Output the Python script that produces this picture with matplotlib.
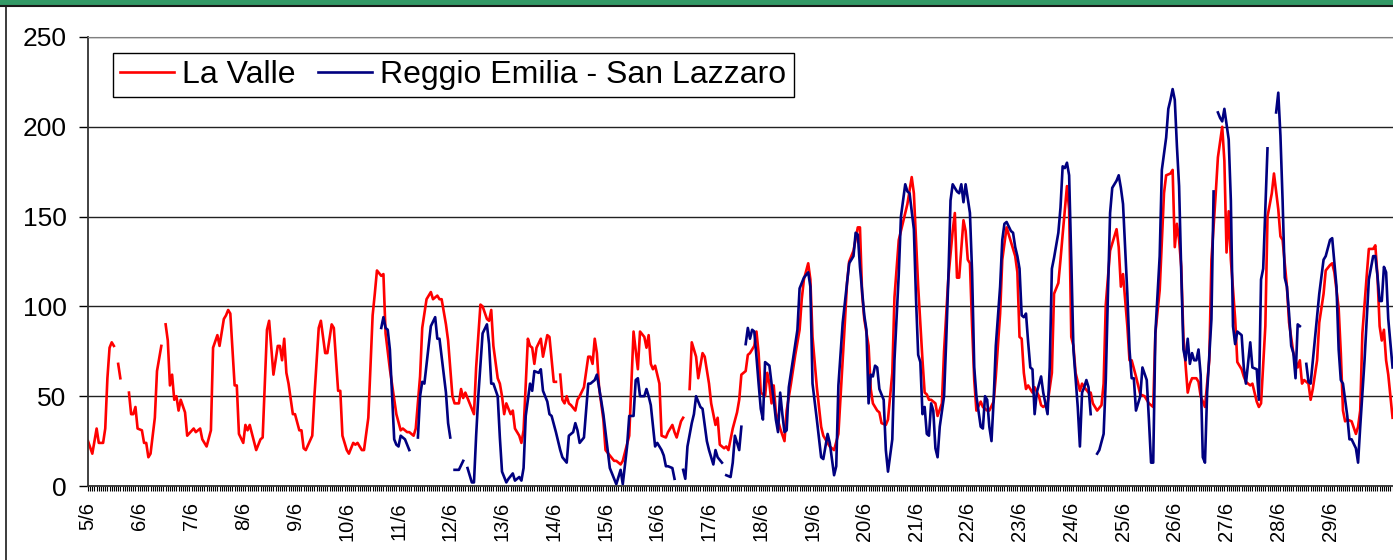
import matplotlib
matplotlib.use("Agg")
import matplotlib.pyplot as plt
import numpy as np
from matplotlib.patches import Rectangle
from matplotlib.lines import Line2D

plt.rcParams['font.family'] = ['Liberation Sans', 'DejaVu Sans']

nan = np.nan

# hours counted from 5/6 00:00 (nan = missing data)
la_valle_h = [
    0, 2, 4, 5, 7, 8, 9, 10, 11, 12, 13, 14, 15, 17, 19, 20, 21, 22, 23,
    25, 26, 27, 28, 29, 31, 32, 34, 35, 36, 37, 38, 39, 40, 41, 42, 43, 45, 46,
    49, 50, 52, 53, 55, 57, 58, 60, 61, 63, 64, 65, 66, 68, 69, 70, 72,
    73, 74, 75, 78, 80, 81, 83, 84, 86, 88, 89, 90, 91, 92, 93, 95,
    96, 98, 99, 100, 101, 104, 105, 107, 108, 110, 111, 113, 114, 116, 117, 118,
    120, 121, 123, 124, 125, 127, 128, 130, 132, 133, 134, 136, 137, 138, 140, 143,
    145, 146, 148, 149, 151, 152, 154, 155, 157, 159, 160, 162, 163, 164, 166, 167,
    169, 170, 172, 173, 174, 175, 177, 179, 180, 182, 183, 185, 186, 187, 188, 190,
    191, 192, 193, 194, 196, 197, 198, 200, 201, 202, 204, 205, 206, 207, 208, 210, 211, 213, 214, 216, 217, 218,
    219, 220, 221, 222, 223, 224, 226, 227, 228, 230, 232, 233, 234, 235, 236, 237, 239,
    240, 242, 244, 245, 247, 248, 251, 252, 253, 255, 256, 258, 259, 260, 261, 262, 263, 265, 266,
    268, 269, 271, 272, 273, 275, 276, 277, 279, 280, 282, 283, 285, 286, 288, 289, 291, 292, 293,
    295, 296, 297, 299, 301, 302, 303, 305, 306, 307, 309, 310, 311, 312, 314, 315,
    316, 317, 318, 319, 321, 323, 324, 326, 328, 330, 331, 332, 334, 335, 336, 338,
    340, 341, 343, 344, 346, 348, 350, 351, 352, 353, 355, 357, 358, 359, 360, 362, 363,
    364, 366, 367, 368, 370, 371, 373, 374, 376, 378, 380, 382, 383, 385, 387,
    388, 389, 390, 391, 393, 394, 396, 397, 399, 401, 402, 403, 404, 406, 407, 408, 409, 410, 411,
    412, 414, 415, 417, 418, 420, 421, 423, 424, 426, 427, 428, 430, 431, 432, 433, 434, 435,
    436, 438, 439, 441, 442, 443, 445, 447, 448, 450, 451, 452, 454, 455, 456, 457, 458,
    460, 461, 462, 464, 465, 466, 468, 470, 471, 472, 474, 475, 477, 478, 479, 480, 482, 483,
    484, 486, 488, 490, 492, 494, 495, 497, 499, 500, 502, 503, 504, 505, 506, 507,
    508, 510, 511, 512, 514, 515, 516, 518, 520, 521, 523, 524, 526, 527, 528, 529, 530, 532,
    533, 535, 536, 537, 539, 540, 542, 543, 544, 546, 547, 549, 550, 552, 553, 554, 556, 557, 559,
    561, 562, 563, 564, 566, 567, 568, 570, 571, 573, 574, 576, 577, 578, 580, 581, 582, 583,
    584, 586, 588, 589, 590, 591, 593, 594, 596, 597, 598, 599, 600, 601, 602, 603, 604, 605,
]
la_valle_v = [
    25, 18, 32, 24, 24, 32, 60, 77, 80, 78, nan, 68, 60, nan, 52, 40, 40, 44, 32,
    31, 24, 24, 16, 18, 38, 64, 78, nan, 90, 81, 56, 62, 48, 50, 42, 48, 41, 28,
    32, 30, 32, 26, 22, 31, 77, 84, 78, 93, 95, 98, 96, 56, 56, 29, 24,
    34, 31, 34, 20, 26, 27, 87, 92, 62, 78, 78, 70, 82, 63, 57, 40,
    40, 31, 31, 21, 20, 28, 50, 88, 92, 74, 74, 90, 88, 53, 53, 28,
    20, 18, 24, 23, 24, 20, 20, 38, 95, 107, 120, 117, 118, 85, 65, 40,
    31, 32, 30, 30, 28, 32, 61, 88, 104, 108, 104, 106, 104, 104, 90, 81,
    50, 46, 46, 54, 49, 52, 46, 40, 66, 101, 100, 93, 92, 98, 78, 60,
    57, 50, 40, 46, 40, 42, 32, 28, 24, 31, 82, 78, 77, 68, 77, 82, 72, 84, 83, 58, 58, nan,
    62, 48, 46, 50, 46, 45, 42, 48, 50, 55, 72, 72, 68, 82, 74, 55, 37,
    20, 17, 14, 14, 12, 14, 28, 57, 86, 65, 86, 83, 77, 84, 68, 65, 67, 57, 28,
    27, 30, 34, 30, 27, 36, 38, nan, 54, 80, 72, 60, 74, 72, 57, 46, 34, 38, 23,
    21, 22, 20, 32, 41, 48, 62, 64, 73, 74, 78, 86, 74, 52, 50, 63,
    57, 46, 56, 41, 32, 25, 42, 57, 73, 87, 104, 115, 124, 115, 83, 55,
    33, 28, 24, 22, 20, 29, 70, 91, 113, 125, 131, 144, 144, 107, 93, 78, 54,
    46, 42, 41, 35, 34, 37, 63, 105, 137, 147, 157, 172, 163, 111, 70,
    52, 51, 48, 48, 46, 39, 46, 75, 116, 142, 152, 116, 116, 148, 142, 126, 124, 89, 59,
    42, 47, 44, 42, 42, 47, 61, 96, 126, 144, 140, 136, 128, 119, 83, 82, 63, 54,
    56, 52, 55, 50, 45, 44, 46, 63, 107, 113, 126, 140, 167, 154, 83, 78, 63,
    53, 57, 55, 52, 52, 46, 42, 45, 57, 101, 131, 135, 143, 133, 111, 118, 89, 70,
    70, 61, 51, 50, 46, 44, 85, 109, 163, 173, 174, 176, 133, 146, 137, 122,
    83, 52, 57, 60, 60, 58, 50, 44, 70, 126, 163, 183, 200, 181, 130, 153, 126, 93,
    69, 65, 61, 58, 56, 57, 47, 44, 46, 89, 150, 163, 174, 154, 139, 137, 111, 91, 74,
    66, 70, 57, 59, 57, 48, 54, 70, 91, 107, 120, 123, 124, 119, 99, 74, 42, 36,
    37, 36, 29, 33, 42, 85, 117, 132, 132, 134, 117, 89, 81, 87, 70, 62, 50, 38,
]

reggio_h = [
    136, 137, 138, 139, 140, 142, 143, 144, 145, 147, 149, 151,
    153, 154, 155, 156, 158, 159, 161, 162, 163, 165, 166, 167, 168, 169,
    170, 172, 174, 175, 176, 178, 179, 180, 181, 183, 185, 186, 187, 188, 190,
    191, 192, 194, 195, 197, 198, 200, 201, 202, 203, 205, 206, 207, 209, 210, 211, 213, 214, 215, 217,
    219, 220, 222, 223, 225, 226, 227, 228, 230, 232, 233, 235, 236, 237, 239,
    241, 242, 244, 245, 247, 248, 250, 251, 253, 254, 255, 256, 258, 259, 260, 261, 263, 264, 266,
    267, 268, 269, 271, 272, 274, 276, 277, 278, 280, 281, 282, 284, 285, 286, 287, 288, 290,
    291, 292, 294, 295, 296, 298, 299, 300, 302, 303, 304, 305, 306, 307, 308, 309, 310, 311, 312, 313, 314,
    316, 317, 318, 319, 320, 321, 322, 323, 324, 325, 327, 329, 330, 332, 334, 335, 336, 338,
    340, 341, 343, 344, 346, 347, 348, 350, 352, 353, 355, 356, 357, 358, 360, 361, 362,
    363, 364, 365, 366, 367, 369, 370, 371, 373, 374, 376, 377, 379, 380, 381, 383, 384, 385, 386,
    387, 388, 389, 390, 391, 392, 393, 394, 395, 397, 398, 399, 400, 401, 403, 404, 405, 406, 407, 409, 410, 411,
    412, 414, 415, 416, 417, 418, 419, 420, 421, 423, 424, 425, 426, 428, 429, 430, 431, 432, 433, 434, 435,
    436, 437, 438, 439, 440, 442, 443, 445, 446, 447, 448, 450, 451, 452, 453, 454, 455, 456, 457, 459,
    460, 461, 462, 463, 464, 465, 466, 468, 469, 471, 472, 473, 474, 475, 476, 477, 478, 479, 480, 482, 483,
    484, 485, 486, 488, 489, 491, 492, 493, 494, 495, 497, 498, 500, 501, 502, 503, 504, 505, 506, 507,
    508, 509, 510, 511, 512, 513, 514, 515, 516, 517, 518, 519, 521, 522, 523, 524, 525, 526, 527, 529, 530, 531,
    532, 533, 535, 536, 537, 539, 540, 542, 543, 544, 545, 546, 547, 548, 551, 552, 553, 554, 555,
    556, 557, 558, 559, 560, 561, 562, 563, 565, 566, 567, 569, 571, 573, 574, 576, 577, 579,
    580, 581, 582, 584, 585, 586, 588, 589, 590, 592, 593, 594, 596, 597, 598, 599, 600, 601, 602, 603, 605,
]
reggio_v = [
    88, 94, 88, 87, 76, 26, 23, 22, 28, 26, 20, nan,
    27, 50, 58, 57, 78, 89, 94, 82, 82, 62, 52, 35, 27, nan,
    9, 9, 14, nan, 10, 2, 2, 28, 50, 85, 90, 79, 57, 57, 50,
    27, 8, 2, 4, 7, 3, 5, 3, 10, 39, 57, 53, 64, 63, 65, 53, 47, 40, 39, 30,
    20, 16, 13, 28, 30, 35, 31, 24, 27, 57, 57, 59, 62, 55, 40,
    20, 10, 4, 1, 9, 1, 22, 39, 39, 59, 60, 50, 50, 54, 50, 45, 22, 24, 20,
    17, 11, 11, 10, 4, nan, 9, 4, 22, 35, 40, 50, 44, 43, 34, 25, 20, 12,
    20, 16, 13, nan, 6, 5, 13, 28, 20, 33, nan, 79, 88, 82, 87, 86, 72, 57, 43, 37, 69,
    67, 57, 48, 37, 30, 52, 40, 30, 31, 55, 71, 87, 110, 116, 119, 111, 57, 37,
    16, 15, 29, 24, 6, 11, 56, 91, 113, 124, 128, 141, 140, 122, 95, 87, 46,
    62, 61, 67, 66, 54, 48, 20, 8, 26, 70, 118, 150, 168, 164, 163, 143, 104, 73, 69,
    40, 44, 29, 28, 46, 42, 21, 16, 33, 50, 81, 116, 159, 168, 164, 163, 168, 158, 168, 152, 119, 66,
    50, 33, 32, 50, 48, 33, 25, 48, 78, 111, 137, 146, 147, 142, 141, 133, 128, 121, 95, 94, 96,
    80, 66, 65, 40, 52, 61, 52, 40, 66, 121, 127, 141, 155, 178, 177, 180, 173, 126, 76, 44,
    22, 52, 55, 59, 55, 40, nan, 18, 20, 29, 59, 107, 152, 166, 168, 170, 173, 166, 157, 107, 76,
    60, 60, 42, 50, 66, 59, 37, 13, 13, 85, 128, 176, 194, 210, 215, 221, 215, 189, 167, 119,
    76, 70, 82, 68, 74, 70, 70, 76, 62, 16, 13, 52, 93, 164, nan, 208, 205, 203, 210, 193, 159, 89,
    79, 86, 84, 66, 57, 80, 66, 65, 48, 115, 121, 154, 188, nan, 208, 219, 195, 159, 116,
    111, 96, 78, 74, 60, 90, 89, nan, 68, 58, 57, 82, 107, 126, 128, 137, 138, 111,
    76, 59, 57, 39, 26, 26, 21, 13, 33, 70, 93, 115, 128, 128, 117, 103, 103, 122, 119, 93, 66,
]

day_labels = ["%d/6" % d for d in range(5, 30)]

fig = plt.figure(figsize=(13.93, 5.6), dpi=100)
W, H = 1393.0, 560.0

# frame of the chart area: green band at top, black border on the left
fig.patches.append(Rectangle((0, 1 - 5 / H), 1, 5 / H, transform=fig.transFigure,
                             facecolor="#339966", edgecolor="none", zorder=0))
fig.lines.append(Line2D([0, 1], [1 - 6 / H, 1 - 6 / H], transform=fig.transFigure,
                        color="#1a1a1a", lw=1.5))
fig.lines.append(Line2D([6 / W, 6 / W], [0, 1 - 6 / H], transform=fig.transFigure,
                        color="#1a1a1a", lw=1.2))

ax = fig.add_axes([88 / W, 74 / H, 1 - 88 / W, 449 / H])

ax.plot(la_valle_h, la_valle_v, color="#FF0000", lw=1.9, label="La Valle")
ax.plot(reggio_h, reggio_v, color="#000080", lw=1.9, label="Reggio Emilia - San Lazzaro")

ax.set_xlim(0, 605.2)
ax.set_ylim(0, 250)
ax.set_yticks(range(0, 251, 50))
ax.set_xticks(range(0, 600, 24))
ax.set_xticklabels(day_labels, rotation=90, fontsize=14.5)
ax.set_xticks(range(0, 606), minor=True)
ax.tick_params(axis="y", labelsize=19, length=6.5, width=1, pad=9, direction="out")
ax.tick_params(axis="x", which="both", length=3.6, width=0.8, pad=8, direction="out")

ax.yaxis.grid(True, color="#222222", lw=1)
ax.set_axisbelow(True)

ax.spines["right"].set_visible(False)
ax.spines["top"].set_color("#808080")
ax.spines["left"].set_color("#333333")
ax.spines["bottom"].set_color("#333333")
ax.spines["left"].set_linewidth(1.3)
ax.spines["bottom"].set_linewidth(1.3)

leg = ax.legend(loc="upper left", bbox_to_anchor=(113 / W, 1 - 53 / H),
                bbox_transform=fig.transFigure, borderaxespad=0, ncol=2,
                fontsize=23, handlelength=1.7, handletextpad=0.25,
                columnspacing=0.7, borderpad=0.22, fancybox=False, framealpha=1)
leg.get_frame().set_edgecolor("black")
leg.get_frame().set_linewidth(1)

fig.savefig("out.png", dpi=100)
